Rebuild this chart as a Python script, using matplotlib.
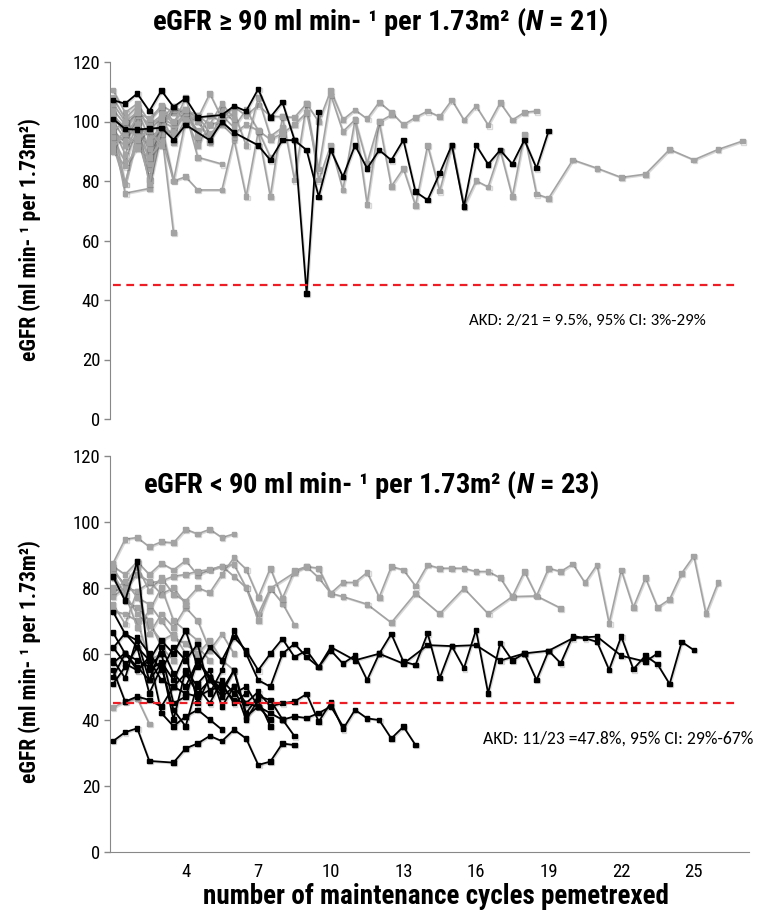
import numpy as np
import matplotlib
matplotlib.use("Agg")
from matplotlib import pyplot as plt, font_manager, patheffects as pe

# fonts
avail = {f.name for f in font_manager.fontManager.ttflist}
NARROW = "Liberation Sans"
for cand in ["Liberation Sans Narrow", "Roboto Condensed", "Open Sans Condensed"]:
    if cand in avail:
        NARROW = cand
        break
NOTE_FONT = "Carlito" if "Carlito" in avail else "Lato"
plt.rcParams["font.family"] = [NARROW, "DejaVu Sans"]
plt.rcParams["mathtext.fontset"] = "custom"
plt.rcParams["mathtext.it"] = NARROW + ":italic:bold"
plt.rcParams["mathtext.rm"] = NARROW + ":bold"

# ---- data: eGFR per visit, one visit every half cycle, None = missing visit
CYCLE_STEP = 0.5
AKD_LIMIT = 45
XTICKS = [4, 7, 10, 13, 16, 19, 22, 25]
YTICKS = [0, 20, 40, 60, 80, 100, 120]

# eGFR >= 90, no AKD (grey)
top_grey = [
    [92, 79, 96, 80.5, 99, 80, 81.4, 77, None, 77, 94, 74.7, 96.6, 74.7, 101.6, 80.3, 106, 80.3,
     92, 77, 100.6, 72.2, 99.9, 78.2, 84.2, 71.7, 92, 76.6, 92, 71.4, 80.1, 78, 90.4, 74.7, 95.6,
     75.6, 74.2, None, 87.1, None, 84.3, None, 81.2, None, 82.3, None, 90.6, None, 87.1, None,
     90.6, None, 93.4],
    [110.6, 103, 106, 100, 105.5, 103, 104, 101, 109.4, 101, 104.9, 102, 105.5, 101.8, 101.6,
     101.4, 106, 99.9, 110.4, 100.6, 103.9, 100.9, 106.5, 103.1, 98.9, 101.4, 103.5, 101.6, 107.2,
     100.5, 105.2, 98.8, 106.3, 100.5, 103.1, 103.5],
    [97, 93, 99, 95, 97, 62.6],
    [96, 75.9, None, 77.5, 96],
    [99, 79, 95, 80.5, 100, 98, 103],
    [94, 86.5, 97, 84, 99, 104, 103, 88, None, 85.7],
    [101, 97, 104, 94, 97, 105, 100, 101, 93, 104, 100],
    [92, 97, 100, 90, 95, 80, 100.5, 102, 96, 99, 95],
    [108, 101, 105, 97, 101, 99, 102, 97],
    [104, 99, 96, 88, 101],
    [103, 95, 100, 91, 96, 97],
    [100, 94, 102, 86, 104, 99, 108, 94],
    [98, 89, 99, 79, 98],
    [95, 92, 95, 93, 98, 96, 103, 100, 94, 102, 98, 104, 97, 88],
    [91, 96, 92, 99, 102, 93, 101, 92, 99, 100, 103, 92, 108, 95, 98],
    [102, 98, 103, 99, 101, 105, 103, 95, 102, 100, 96, 99, 97, 94, 96, 99, 103, 84, 108.9,
     96.6, 100.6, 86, 99.9, 102.2],
    [90, 85, 91, 88, 93],
    [106, 100, 103, 101, 105, 100, 104, 102, 99, 106, 101],
    [97, 100, 94, 97, 92],
]
# eGFR >= 90, AKD (black)
top_black = [
    [107.2, 106.0, 109.4, 103.5, 110.4, 104.9, 107.8, 101.4, None, 102.2, 105.2, 103.5, 110.9,
     101.4, 106.5, 93.8, 42.2, 103.1],
    [100.9, 97.5, 97.3, 97.6, 97.9, 93.8, 98.9, None, 93.7, 99.9, 96.3, None, 92.0, 87.0, 93.8,
     93.7, 90.4, 74.7, 90.4, 81.4, 92.0, 84.2, 90.4, 87.0, 93.8, 76.4, 73.6, 82.6, 92.1, 71.4,
     92.1, 85.6, 90.4, 85.7, 93.8, 84.3, 96.8],
]

# eGFR < 90, no AKD (grey)
bot_grey = [
    [87.4, 94.7, 95.2, 92.4, 93.9, 93.6, 97.7, 96.3, 97.7, 95.2, 96.3],
    [86.5, 84.0, 87.9, 84.0, 87.4, 85.4, 88.2, 83.8, 85.4, 86.6, 83.4, 80.0, 72.0, 79.8, 75.3, 68.7],
    [85.0, 81.0, 86.5, 79.0, 83.0, 78.0, 76.0, 80.0, 78.5, 84.0, 89.1, 85.6, 77.1, 85.9, 76.8,
     85.2, 86.4, 85.9, 78.3, 81.6, 81.6, 84.6, 77.1, 86.4, 85.4, 80.5, 86.9, 85.9, 85.9, 85.9,
     84.9, 84.9, 83.0, 77.3, 84.9, 77.5, 85.9, 84.9, 87.2, 81.5, 86.9, 69.2, 85.4, 74.0, 83.0,
     74.0, 76.5, 84.4, 89.6, 72.1, 81.5],
    [77.3, 80.0, 79.0, 81.5, 82.0, 83.5, 84.0, 85.0, 85.5, 86.5, 87.0, 80.0, 70.0, 79.8, None,
     84.6, 86.4, 83.0, 78.3, 77.3, None, 75.0, None, 69.4, None, 78.3, None, 72.1, None, 79.8,
     None, 72.1, None, 77.3, None, 77.5, None, 73.8],
    [83.0, 76.0, 74.0, 70.0, 62.0, 58.0],
    [80.0, 78.0, 72.0, 68.5, 64.0, 66.0, 60.0, 62.0, 58.0],
    [75.0, 69.0, 79.0, 66.0, 72.0, 68.0, 74.0, 70.0, 61.0, 66.0, 60.0],
    [73.0, 72.0, 70.0, 58.0, 60.0],
    [43.7, 45.5, 46.5, 38.7],
    [86.0, 80.0, 84.0, 82.0, 78.0, 80.0, 75.0],
    [84.0, 78.0, 68.0, 73.0, 80.0, 70.0, 67.0, 64.0],
    [79.0, 82.0, 77.0, 75.0, 70.0, 65.0, 63.0, 60.0, 64.0, 58.0, 55.0],
]
# eGFR < 90, AKD (black)
bot_black = [
    [33.5, 36.2, 37.4, 27.5, None, 27.0, 31.3, 32.8, 35.1, 33.5, 37.0, 34.3, 26.3, 27.3, 32.8, 32.3],
    [83.4, 76.1, 87.9, 55.0, 57.5, 52.0, 60.0, 45.0, 53.0, 48.0, 55.0, 41.0, 44.0, 40.0],
    [58.1, 52.6, 65.0, 60.0, 55.0, 62.0, 58.0, 63.0, 48.0, 55.0, 67.0, 60.0, 52.0, 50.0, 60.0,
     63.0, 59.0, 56.0, 61.0, 57.0, 59.5, 52.0, 60.0, 66.0, 57.6, 56.6, 66.2, 52.6, 62.3, 55.6,
     67.2, 48.0, 63.3, 57.9, 60.1, 52.0, 60.9, 57.1, 65.4, 64.7, 63.6, 55.1, 65.2, 55.3, 59.4,
     56.8, 50.8, 63.6, 61.1],
    [61.7, 66.2, 62.0, 58.0, 64.0, 60.0, 67.0, 56.0, 62.0, 58.0, 65.0, 61.0, 55.0, 60.0, 64.5,
     59.0, 61.0, 56.0, 62.0, None, 58.0, None, 60.0, None, 57.0, None, 62.6, None, 62.3, None,
     62.6, None, 57.9, None, 60.1, None, 60.9, None, 64.7, None, 65.2, None, 59.4, None, 57.6,
     60.1],
    [57.2, 60.2, 55.0, 58.0, 52.0, 50.0, 54.0, 48.0, 52.0, 47.0, 50.0, 45.0, 48.5, 44.0, 45.0,
     45.5, 47.8, 39.4, 45.2, 37.1, 43.0, 40.4, 39.9, 34.3, 37.9, 32.3],
    [55.1, 45.5, 47.0, 46.0, 44.0, 50.0, 48.0, 47.0, 49.0, 50.0, 46.0, 45.0, 44.0, 42.0, 40.0,
     41.0, 40.5, 42.0, 44.0, 38.0],
    [53.0, 60.0, 56.0, 52.0, 62.0, 54.0, 50.0, 58.0, 53.0, 49.0, 55.0, 42.0, 47.0, 46.0, 40.1, 35.0],
    [50.8, 56.0, 62.0, 48.0, 56.0, 43.0, 38.0, 51.0, 55.0, 44.0, 50.0, 40.0, 46.0, 38.0],
    [72.7, 66.0, 64.0, 52.0, 57.0, 40.0, 55.0, 50.0, 45.0, 52.0, 48.0, 50.0, 44.0],
    [66.4, 60.0, 58.0, 56.0, 60.0, 45.0, 47.0, 58.0, 52.0, 51.0, 45.0, 48.0],
    [62.0, 57.0, 55.0, 59.0, 42.0, 38.0, 41.0, 43.0, 40.0, 37.0],
]

titles = [r"eGFR ≥ 90 ml min- ¹ per 1.73m² ($\mathit{N}$ = 21)",
          r"eGFR < 90 ml min- ¹ per 1.73m² ($\mathit{N}$ = 23)"]
notes = ["AKD: 2/21 = 9.5%, 95% CI: 3%-29%", "AKD: 11/23 =47.8%, 95% CI: 29%-67%"]
ylabel = "eGFR (ml min- ¹ per 1.73m²)"
xlabel = "number of maintenance cycles pemetrexed"

GREY = "#a3a3a3"
AXIS = "#888888"
shadow = [pe.SimpleLineShadow(offset=(0.8, -0.8), shadow_color="k", alpha=0.15), pe.Normal()]


def draw(ax, series, color, lw, ms, z):
    for ys in series:
        y = np.array([np.nan if v is None else v for v in ys], dtype=float)
        x = 1 + CYCLE_STEP * np.arange(len(y))
        ok = ~np.isnan(y)
        ax.plot(x[ok], y[ok], color=color, lw=lw, marker="s", ms=ms, mec=color, mfc=color,
                zorder=z, path_effects=shadow)


fig = plt.figure(figsize=(7.57, 9.16), dpi=100)
ax_top = fig.add_axes([110 / 757, 497 / 916, 639 / 757, 357 / 916])
ax_bot = fig.add_axes([110 / 757, 64.3 / 916, 639 / 757, 396 / 916])

panels = [(ax_top, top_grey, top_black), (ax_bot, bot_grey, bot_black)]
for i, (ax, grey, black) in enumerate(panels):
    draw(ax, grey, GREY, 1.2, 3.4, 2)
    draw(ax, black, "black", 1.3, 3.2, 3)
    ax.plot([1, 26.8], [AKD_LIMIT, AKD_LIMIT], color="#ee1c24", lw=1.6, ls=(0, (3.5, 2.5)), zorder=4)
    ax.set_xlim(0.876, 27.28)
    ax.set_ylim(0, 120)
    ax.set_yticks(YTICKS)
    ax.set_xticks(XTICKS)
    ax.tick_params(axis="y", direction="out", length=4, width=1, color=AXIS, labelsize=13.5, pad=3)
    ax.tick_params(axis="x", length=0, labelsize=13.5, pad=8)
    for s in ["top", "right"]:
        ax.spines[s].set_visible(False)
    ax.spines["left"].set_color(AXIS)
    ax.spines["bottom"].set_color(AXIS)
    ax.set_facecolor("none")

ax_top.spines["bottom"].set_visible(False)
ax_top.tick_params(axis="x", labelbottom=False)

# notes
ax_top.text(15.7, 33, notes[0], fontsize=12.2, family=NOTE_FONT, va="center", ha="left")
ax_bot.text(16.3, 34.2, notes[1], fontsize=12.7, family=NOTE_FONT, va="center", ha="left",
            clip_on=False)

# titles and axis labels
fig.text(380 / 757, 1 - 22 / 916, titles[0], ha="center", va="center", fontsize=20.5, fontweight="bold")
fig.text(371 / 757, 1 - 485 / 916, titles[1], ha="center", va="center", fontsize=20.5, fontweight="bold")
fig.text(30 / 757, 1 - 240 / 916, ylabel, rotation=90, ha="center", va="center", fontsize=15.5,
         fontweight="bold")
fig.text(30 / 757, 1 - 662 / 916, ylabel, rotation=90, ha="center", va="center", fontsize=15.5,
         fontweight="bold")
fig.text(436 / 757, 1 - 897 / 916, xlabel, ha="center", va="center", fontsize=19.5, fontweight="bold")

fig.savefig("out.png", dpi=100, facecolor="white")
